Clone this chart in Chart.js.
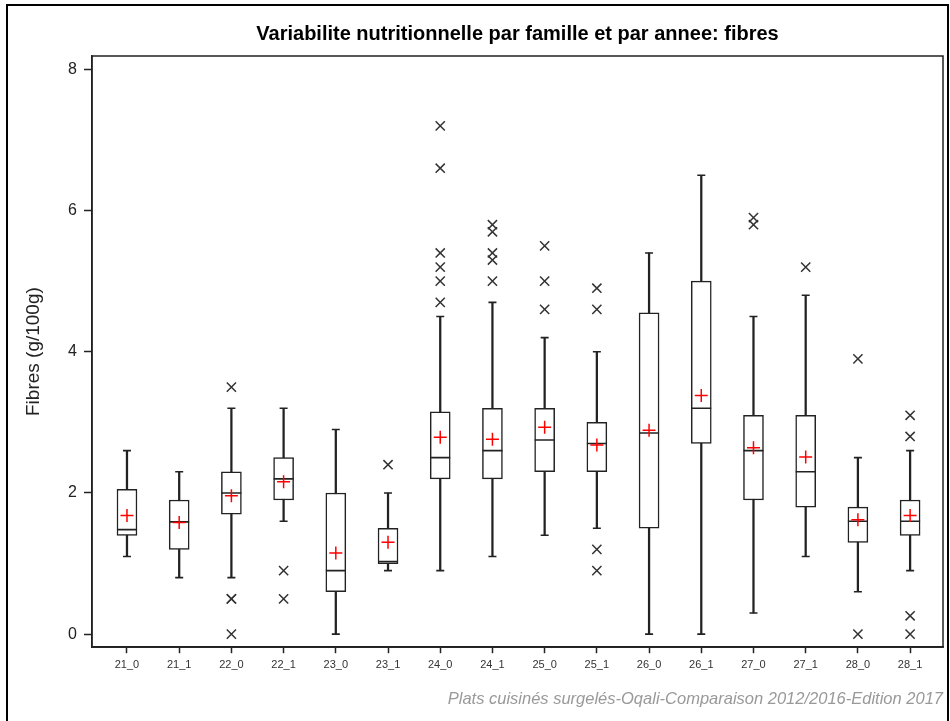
<!DOCTYPE html>
<html>
<head>
<meta charset="utf-8">
<script src="https://cdn.jsdelivr.net/npm/chart.js@4/dist/chart.umd.min.js"></script>
<style>
  html, body { margin: 0; padding: 0; background: #fff; }
  #wrap { width: 950px; height: 721px; position: relative; }
</style>
</head>
<body>
<div id="wrap"><canvas id="c" width="950" height="721"></canvas></div>
<script>
const categories = ['21_0','21_1','22_0','22_1','23_0','23_1','24_0','24_1','25_0','25_1','26_0','26_1','27_0','27_1','28_0','28_1'];
const whiskerLow  = [1.1, 0.8, 0.8, 1.6, 0.0, 0.9, 0.9, 1.1, 1.4, 1.5, 0.0, 0.0, 0.3, 1.1, 0.6, 0.9];
const q1Values    = [1.4, 1.2, 1.7, 1.9, 0.6, 1.0, 2.2, 2.2, 2.3, 2.3, 1.5, 2.7, 1.9, 1.8, 1.3, 1.4];
const medianValues= [1.48,1.59,2.0, 2.2, 0.9, 1.03,2.5, 2.6, 2.75,2.7, 2.85,3.2, 2.6, 2.3, 1.6, 1.6];
const q3Values    = [2.05,1.9, 2.3, 2.5, 2.0, 1.5, 3.15,3.2, 3.2, 3.0, 4.55,5.0, 3.1, 3.1, 1.8, 1.9];
const whiskerHigh = [2.6, 2.3, 3.2, 3.2, 2.9, 2.0, 4.5, 4.7, 4.2, 4.0, 5.4, 6.5, 4.5, 4.8, 2.5, 2.6];
const meanValues  = [1.68,1.58,1.96,2.16,1.15,1.3, 2.79,2.76,2.93,2.68,2.89,3.38,2.64,2.51,1.62,1.68];
const outlierValues = [
  [], [], [3.5, 0.5, 0.5, 0], [0.9, 0.5], [], [2.4],
  [7.2, 6.6, 5.4, 5.2, 5.0, 4.7], [5.8, 5.7, 5.4, 5.3, 5.0], [5.5, 5.0, 4.6],
  [4.9, 4.6, 1.2, 0.9], [], [], [5.9, 5.8], [5.2], [3.9, 0], [3.1, 2.8, 0.26, 0]
];
const yTickValues = [0, 2, 4, 6, 8];
const titleText = 'Variabilite nutritionnelle par famille et par annee: fibres';
const yAxisTitle = 'Fibres (g/100g)';
const footerText = 'Plats cuisinés surgelés-Oqali-Comparaison 2012/2016-Edition 2017';

const idx = categories.map((c, i) => i);
const whiskerData = idx.map(i => ({ x: i, y: [whiskerLow[i], whiskerHigh[i]] }));
const boxData = idx.map(i => ({ x: i, y: [q1Values[i], q3Values[i]] }));
const medianData = idx.map(i => ({ x: i, y: medianValues[i] }));
const capData = [];
idx.forEach(i => { capData.push({ x: i, y: whiskerLow[i] }); capData.push({ x: i, y: whiskerHigh[i] }); });
const meanData = idx.map(i => ({ x: i, y: meanValues[i] }));
const outlierData = [];
idx.forEach(i => outlierValues[i].forEach(v => outlierData.push({ x: i, y: v })));

const NARROW = '"Liberation Sans Narrow", "Liberation Sans", Arial, sans-serif';
const SANS = '"Liberation Sans", Arial, sans-serif';

const framePlugin = {
  id: 'frame',
  afterDraw(chart) {
    const ctx = chart.ctx, a = chart.chartArea;
    ctx.save();
    ctx.strokeStyle = '#222';
    ctx.lineWidth = 1.5;
    ctx.strokeRect(a.left, a.top, a.right - a.left, a.bottom - a.top);
    ctx.strokeStyle = '#000';
    ctx.lineWidth = 2;
    ctx.beginPath();
    ctx.moveTo(7, 730); ctx.lineTo(7, 5); ctx.lineTo(948, 5); ctx.lineTo(948, 730);
    ctx.stroke();
    ctx.restore();
  }
};

new Chart(document.getElementById('c'), {
  type: 'scatter',
  data: {
    datasets: [
      { type: 'bar', label: 'whisker', data: whiskerData, grouped: false, barThickness: 1.6,
        backgroundColor: '#222', borderWidth: 0, order: 6 },
      { type: 'bar', label: 'box', data: boxData, grouped: false, barThickness: 20,
        backgroundColor: '#fff', borderColor: '#222', borderWidth: 1.5, borderSkipped: false, order: 5 },
      { type: 'scatter', label: 'median', data: medianData, pointStyle: 'line', pointRadius: 10,
        borderColor: '#222', borderWidth: 1.6, order: 4 },
      { type: 'scatter', label: 'caps', data: capData, pointStyle: 'line', pointRadius: 4,
        borderColor: '#222', borderWidth: 1.6, order: 3 },
      { type: 'scatter', label: 'outliers', data: outlierData, pointStyle: 'crossRot', pointRadius: 6.5,
        borderColor: '#333', borderWidth: 1.5, order: 2 },
      { type: 'scatter', label: 'mean', data: meanData, pointStyle: 'cross', pointRadius: 6.5,
        borderColor: '#ff0000', borderWidth: 1.5, order: 1 }
    ]
  },
  options: {
    responsive: false,
    animation: false,
    layout: { autoPadding: false, padding: { left: 0, right: 7, top: 0, bottom: 12 } },
    plugins: {
      legend: { display: false },
      tooltip: { enabled: false },
      title: {
        display: true, text: titleText, fullSize: false, align: 'center', color: '#000',
        font: { family: SANS, size: 20, weight: 'bold' },
        padding: { top: 22, bottom: 10 }
      },
      subtitle: {
        display: true, text: footerText, position: 'bottom', fullSize: false, align: 'end', color: '#999',
        font: { family: SANS, size: 16.5, style: 'italic' },
        padding: { top: 5, bottom: 0 }
      }
    },
    scales: {
      x: {
        type: 'linear', min: -0.67, max: 15.63, offset: false,
        afterBuildTicks: (s) => { s.ticks = idx.map(i => ({ value: i })); },
        afterFit: (s) => { s.height = 37; s.paddingLeft = 0; s.paddingRight = 0; },
        ticks: { callback: (v) => categories[v], color: '#333', padding: 5, maxRotation: 0, autoSkip: false,
                 font: { family: NARROW, size: 11 } },
        grid: { display: true, offset: false, drawOnChartArea: false, drawTicks: true, tickLength: 6, color: '#222', tickWidth: 1.5 },
        border: { display: true, color: '#222', width: 1.5 }
      },
      y: {
        type: 'linear', min: -0.185, max: 8.19,
        afterBuildTicks: (s) => { s.ticks = yTickValues.map(v => ({ value: v })); },
        afterFit: (s) => { s.width = 92; },
        ticks: { color: '#222', padding: 7, font: { family: SANS, size: 16 } },
        grid: { display: true, drawOnChartArea: false, drawTicks: true, tickLength: 8, color: '#222', tickWidth: 1.5 },
        border: { display: true, color: '#222', width: 1.5 },
        title: { display: true, text: yAxisTitle, color: '#222', font: { family: SANS, size: 19 },
                 padding: { top: 22, bottom: 0 } }
      }
    }
  },
  plugins: [framePlugin]
});
</script>
</body>
</html>
